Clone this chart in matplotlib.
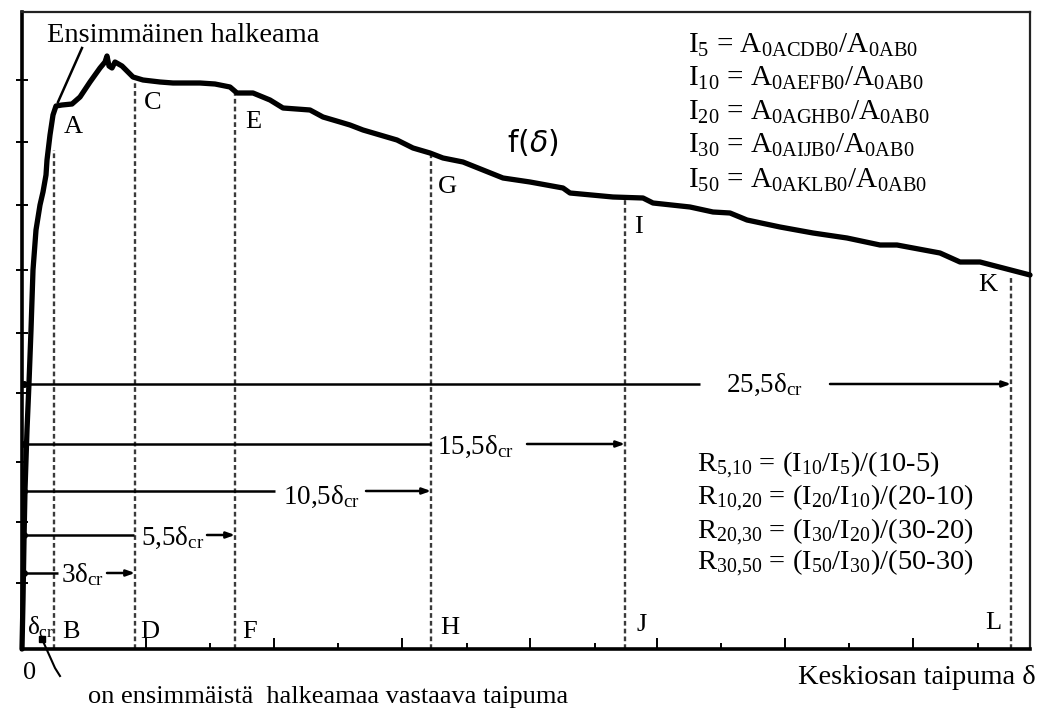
import matplotlib
matplotlib.use("Agg")
import matplotlib.pyplot as plt

plt.rcParams['font.family'] = ['Liberation Serif', 'DejaVu Serif']
plt.rcParams['mathtext.fontset'] = 'custom'
plt.rcParams['mathtext.rm'] = 'Liberation Serif'
plt.rcParams['mathtext.it'] = 'Liberation Serif:italic'
plt.rcParams['mathtext.bf'] = 'Liberation Serif:bold'

# ---- data (schematic deflection / load units) ----
curve_x = [0, 1, 2, 3, 5, 7, 9, 11, 14, 18, 21, 24, 25, 28, 31, 34, 40, 50, 58, 68, 78, 83, 85, 87,
           90, 93, 100, 111, 121, 138, 151, 178, 193, 208, 215, 231, 248, 261, 288, 301, 318, 328,
           341, 375, 391, 408, 421, 441, 481, 508, 541, 548, 591, 621, 631, 668, 691, 708, 725,
           758, 791, 825, 858, 875, 918, 938, 958, 1008]
curve_y = [0, 49, 109, 159, 219, 266, 319, 379, 419, 444, 457, 474, 489, 514, 534, 543, 544, 545,
           552, 567, 581, 587, 593, 583, 581, 587, 583, 572, 569, 567, 566, 566, 565, 562, 556,
           556, 549, 541, 539, 532, 527, 524, 519, 509, 501, 496, 491, 487, 471, 467, 461, 456,
           452, 451, 446, 442, 437, 436, 429, 422, 416, 411, 404, 404, 396, 387, 387, 374]

# vertical limit lines (B, D, F, H, J, L) and their top ends
limit_x = [32, 113, 213, 409, 603, 989]
limit_top = [499, 567, 556, 496, 449, 372]
bottom_letters = ['B', 'D', 'F', 'H', 'J', 'L']
bottom_letter_x = [49, 128, 228, 428, 620, 971]
bottom_letter_y = [17, 17, 17, 21, 24, 26]

curve_letters = ['A', 'C', 'E', 'G', 'I', 'K']
curve_letter_x = [51, 131, 231, 425, 616, 966]
curve_letter_y = [522, 546, 527, 462, 422, 364]

# span arrows: label, y level, end x, label centre x, gap start, gap end
span_labels = [r'3δ$_{\mathrm{cr}}$', r'5,5δ$_{\mathrm{cr}}$', r'10,5δ$_{\mathrm{cr}}$',
               r'15,5δ$_{\mathrm{cr}}$', r'25,5δ$_{\mathrm{cr}}$']
span_y = [76, 114, 158, 205, 265]
span_end = [113, 213, 409, 603, 989]
span_text_x = [61, 151, 300, 454, 743]
span_text_y = [74, 111, 152, 202, 264]
span_gap_start = [36, 112, 253, 409, 678]
span_gap_end = [85, 185, 344, 505, 808]

index_lines = [r'I$_{\mathrm{5}}$ = A$_{\mathrm{0ACDB0}}$/A$_{\mathrm{0AB0}}$',
               r'I$_{\mathrm{10}}$ = A$_{\mathrm{0AEFB0}}$/A$_{\mathrm{0AB0}}$',
               r'I$_{\mathrm{20}}$ = A$_{\mathrm{0AGHB0}}$/A$_{\mathrm{0AB0}}$',
               r'I$_{\mathrm{30}}$ = A$_{\mathrm{0AIJB0}}$/A$_{\mathrm{0AB0}}$',
               r'I$_{\mathrm{50}}$ = A$_{\mathrm{0AKLB0}}$/A$_{\mathrm{0AB0}}$']
index_y = [604, 571, 537, 504, 469]

ratio_lines = [r'R$_{\mathrm{5{,}10}}$ = (I$_{\mathrm{10}}$/I$_{\mathrm{5}}$)/(10-5)',
               r'R$_{\mathrm{10{,}20}}$ = (I$_{\mathrm{20}}$/I$_{\mathrm{10}}$)/(20-10)',
               r'R$_{\mathrm{20{,}30}}$ = (I$_{\mathrm{30}}$/I$_{\mathrm{20}}$)/(30-20)',
               r'R$_{\mathrm{30{,}50}}$ = (I$_{\mathrm{50}}$/I$_{\mathrm{30}}$)/(50-30)']
ratio_y = [184, 151, 117, 86]

xtick_major = [124, 252, 380, 508, 635, 763, 891]
xtick_minor = [188, 316, 445, 573, 699, 827, 956]
ytick_pos = [66, 127, 187, 256, 316, 379, 444, 507, 569]

# ---- figure ----
fig = plt.figure(figsize=(10.48, 7.14), dpi=100)
ax = fig.add_axes([22 / 1048, 65 / 714, 1008 / 1048, 637 / 714])
ax.set_xlim(0, 1008)
ax.set_ylim(0, 637)

for s in ['left', 'bottom']:
    ax.spines[s].set_linewidth(2.6)
for s in ['top', 'right']:
    ax.spines[s].set_linewidth(1.6)
    ax.spines[s].set_color('#222222')

ax.set_xticks(xtick_major)
ax.set_xticks(xtick_minor, minor=True)
ax.set_yticks(ytick_pos)
ax.set_xticklabels([])
ax.set_yticklabels([])
ax.tick_params(axis='x', which='major', direction='in', length=8, width=1.4)
ax.tick_params(axis='x', which='minor', direction='in', length=4, width=1.4)
ax.tick_params(axis='y', which='major', direction='inout', length=9, width=1.4)

# vertical dashed limit lines
for xv, top in zip(limit_x, limit_top):
    ax.plot([xv, xv], [0, top], color='#3a3a3a', lw=1.7, ls=(0, (2.0, 1.3)), zorder=2)

# span arrows
for lab, yv, xe, tx, ty, g0, g1 in zip(span_labels, span_y, span_end, span_text_x,
                                       span_text_y, span_gap_start, span_gap_end):
    ax.plot([2, g0], [yv, yv], color='black', lw=1.8, zorder=3, solid_capstyle='butt')
    ax.annotate('', xy=(xe, yv), xytext=(g1, yv),
                arrowprops=dict(arrowstyle='-|>,head_length=0.5,head_width=0.18',
                                color='black', lw=1.8, shrinkA=0, shrinkB=0), zorder=3)
    ax.plot([2], [yv], marker='o', ms=4, color='black', zorder=3)
    ax.text(tx, ty, lab, ha='center', va='center', fontsize=19.5, zorder=4)

# load-deflection curve
ax.plot(curve_x, curve_y, color='black', lw=3.8, solid_joinstyle='round',
        solid_capstyle='round', zorder=5, clip_on=False)

# letters
for l, xv, yv in zip(curve_letters, curve_letter_x, curve_letter_y):
    ax.text(xv, yv, l, ha='center', va='center', fontsize=19)
for l, xv, yv in zip(bottom_letters, bottom_letter_x, bottom_letter_y):
    ax.text(xv, yv, l, ha='center', va='center', fontsize=19)

# first crack annotation
ax.text(25, 614, 'Ensimmäinen halkeama', ha='left', va='center', fontsize=20.5)
ax.plot([60, 36], [601, 547], color='black', lw=1.8, zorder=4)

ax.text(5, 22, r'δ$_{\mathrm{cr}}$', ha='left', va='center', fontsize=18)
ax.plot([20, 33, 38], [10, -19, -27], color='black', lw=1.5, clip_on=False)
ax.plot([20], [10], marker='s', ms=4, color='black', clip_on=False)
ax.text(8, -24, '0', ha='center', va='center', fontsize=19, clip_on=False)

ax.text(511, 506, r'f($\delta$)', ha='center', va='center', fontsize=21.5,
        family='DejaVu Sans', math_fontfamily='dejavusans')

for t, yv in zip(index_lines, index_y):
    ax.text(666, yv, t, ha='left', va='center', fontsize=21)
for t, yv in zip(ratio_lines, ratio_y):
    ax.text(675, yv, t, ha='left', va='center', fontsize=20.5)

ax.text(66, -48, 'on ensimmäistä  halkeamaa vastaava taipuma', ha='left', va='center',
        fontsize=19, clip_on=False)
ax.text(776, -29, 'Keskiosan taipuma δ', ha='left', va='center', fontsize=20.5, clip_on=False)

fig.savefig('out.png', dpi=100)
